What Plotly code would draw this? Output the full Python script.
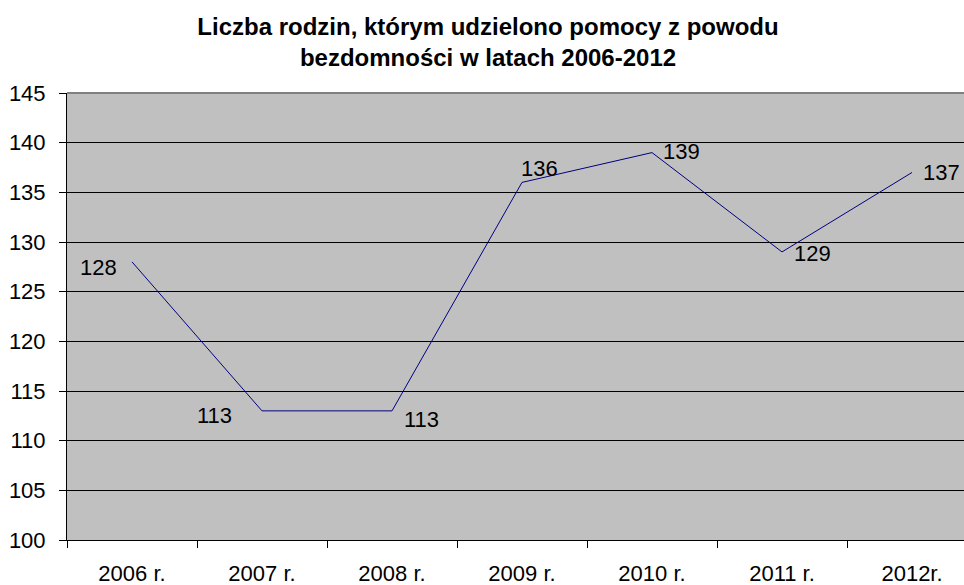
import plotly.graph_objects as go

years = ["2006 r.", "2007 r.", "2008 r.", "2009 r.", "2010 r.", "2011 r.", "2012r."]
families = [128, 113, 113, 136, 139, 129, 137]
y_ticks = [100, 105, 110, 115, 120, 125, 130, 135, 140, 145]

title_text = "Liczba rodzin, którym udzielono pomocy z powodu<br>bezdomności w latach 2006-2012"

# label placement (anchor, x pixel shift, y pixel shift)
label_style = [
    ("right", -13, -6),
    ("right", -28, -5),
    ("left", 10, -9),
    ("left", -3, 14),
    ("left", 9, 1),
    ("left", 10, -2),
    ("left", 9, 0),
]

FONT = "Liberation Sans, Arial, sans-serif"

fig = go.Figure()
fig.add_trace(go.Scatter(
    x=years, y=families, mode="lines",
    line=dict(color="#000080", width=1),
    hoverinfo="x+y", showlegend=False,
))

for xv, yv, (anc, dx, dy) in zip(years, families, label_style):
    fig.add_annotation(
        x=xv, y=yv, text=str(yv), showarrow=False,
        xanchor=anc, yanchor="middle", xshift=dx, yshift=dy,
        font=dict(family=FONT, size=22, color="black"),
    )

fig.add_shape(type="line", xref="paper", yref="paper", x0=0, x1=1, y0=1, y1=1,
              line=dict(color="#808080", width=2), layer="above")

# plot area runs slightly past the right edge of the window, as in the reference
fig.update_layout(
    width=977, height=585,
    margin=dict(l=67, r=0, t=93, b=45),
    paper_bgcolor="white", plot_bgcolor="#C0C0C0",
    title=dict(text=title_text, x=0.4995, xanchor="center", xref="container",
               y=0.94, yanchor="top", yref="container",
               font=dict(family=FONT, size=24, color="black", weight="bold")),
    font=dict(family=FONT, size=22, color="black"),
)
fig.update_xaxes(
    type="category", range=[-0.5, 6.5], automargin=False,
    tickson="boundaries", ticks="outside", ticklen=7, tickcolor="black",
    showline=True, linecolor="black", linewidth=1,
    showgrid=False, ticklabelstandoff=14,
    tickfont=dict(family=FONT, size=22, color="black"),
)
fig.update_yaxes(
    range=[100, 145], tickvals=y_ticks, ticktext=[str(v) for v in y_ticks],
    automargin=False,
    ticks="outside", ticklen=7, tickcolor="black",
    showline=True, linecolor="black", linewidth=1,
    showgrid=True, gridcolor="black", gridwidth=1, zeroline=False,
    ticklabelstandoff=9,
    tickfont=dict(family=FONT, size=22, color="black"),
)

fig.write_html(
    "out.html",
    config={"displayModeBar": False},
    post_script=(
        "document.body.style.margin='0';"
        "document.body.style.overflow='hidden';"
        "document.documentElement.style.overflow='hidden';"
    ),
)
